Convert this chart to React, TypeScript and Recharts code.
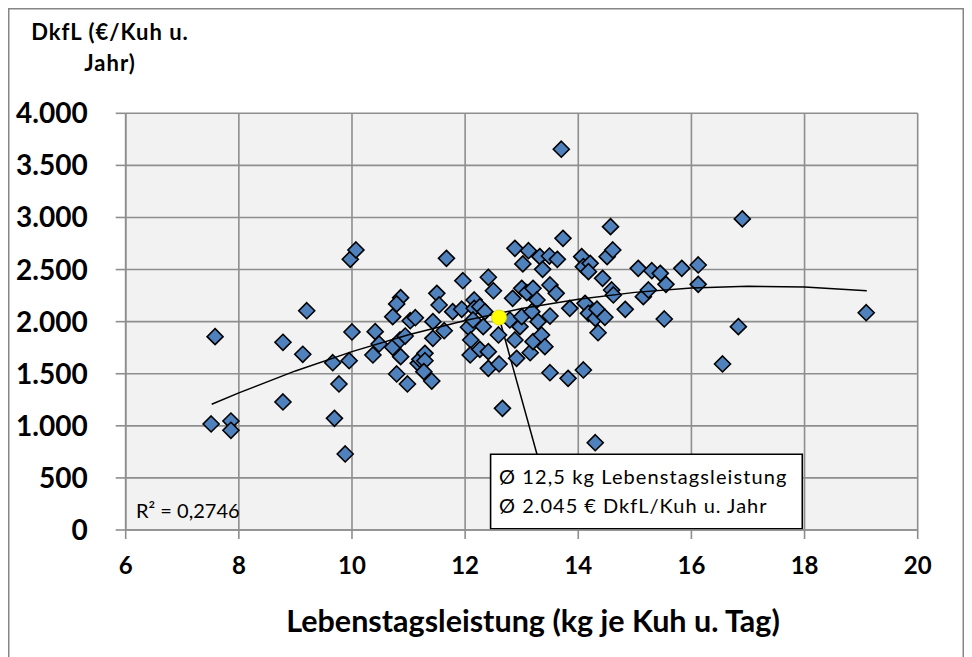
import React from "react";
import {
  ScatterChart,
  Scatter,
  XAxis,
  YAxis,
  CartesianGrid,
  ReferenceLine,
  ReferenceArea,
} from "recharts";

// Farm data: Lebenstagsleistung (kg/Kuh u. Tag) vs DkfL (€/Kuh u. Jahr)
const farmX = [
  7.51, 7.58, 7.86, 7.86, 8.78, 8.78, 9.2, 9.13, 9.66, 9.69, 9.77, 9.88, 9.95, 10.0, 9.97, 10.07,
  10.41, 10.48, 10.37, 10.72, 10.85, 10.94, 10.86, 10.79, 10.98, 10.86, 10.79, 10.72, 11.03, 11.12,
  11.17, 11.2, 11.29, 11.29, 11.27, 11.41, 11.5, 11.54, 11.43, 11.43, 11.63, 11.67, 11.78, 11.94,
  11.96, 12.06, 12.1, 12.09, 12.16, 12.16, 12.14, 12.26, 12.35, 12.41, 12.5, 12.32, 12.26, 12.41,
  12.41, 12.6, 12.59, 12.66, 12.79, 12.84, 12.88, 12.88, 12.91, 12.97, 13.0, 13.0, 13.02, 13.09,
  13.12, 13.15, 13.18, 13.2, 13.2, 13.27, 13.29, 13.32, 13.35, 13.37, 13.41, 13.49, 13.5, 13.5,
  13.5, 13.61, 13.63, 13.73, 13.7, 13.82, 13.85, 14.06, 14.09, 14.09, 14.12, 14.18, 14.21, 14.18,
  14.3, 14.33, 14.35, 14.43, 14.47, 14.51, 14.57, 14.61, 14.59, 14.62, 14.83, 14.3, 15.06, 15.15,
  15.24, 15.3, 15.45, 15.55, 15.52, 15.83, 16.12, 16.12, 16.55, 16.83, 16.9, 19.09,
];
const farmY = [
  1018, 1856, 1046, 957, 1802, 1229, 2105, 1687, 1606, 1072, 1402, 730, 1625, 1901, 2599, 2688,
  1904, 1786, 1680, 1754, 1824, 1862, 1664, 1498, 1402, 2230, 2170, 2048, 2009, 2038,
  1600, 1638, 1696, 1625, 1520, 1430, 2272, 2160, 2000, 1840, 1913, 2608, 2096, 2119,
  2393, 1946, 1824, 1680, 2208, 2128, 2016, 2144, 2096, 2426, 2297, 1952, 1734, 1712,
  1552, 1594, 1872, 1168, 2016, 2224, 1824, 2704, 1648, 1952, 2048, 2320, 2554, 2278,
  2681, 1702, 2096, 2320, 1808, 2208, 2000, 2624, 1872, 2502, 1760, 2630, 2352, 2054,
  1510, 2272, 2598, 2800, 3655, 1456, 2128, 2624, 2528, 1536, 2176, 2080, 2560, 2480,
  2032, 2120, 1894, 2416, 2042, 2624, 2912, 2688, 2304, 2256, 2118, 838, 2512, 2240,
  2304, 2489, 2464, 2358, 2026, 2512, 2544, 2358, 1594, 1952, 2986, 2086,
];

// Trend line (polynomial)
const trendX = [7.52, 8, 9, 10, 11, 12, 13, 14, 15, 16, 17, 18, 19.1];
const trendY = [1207, 1316, 1527, 1712, 1874, 2012, 2126, 2215, 2281, 2322, 2339, 2333, 2297];

// Mean point
const meanX = [12.6];
const meanY = [2040];

// Annotation box corners and connector end (data units)
const boxX = [12.45, 17.96];
const boxY = [12, 727];
const connectorEnd = [13.27, 727];

const xTicks = [6, 8, 10, 12, 14, 16, 18, 20];
const yTicks = [0, 500, 1000, 1500, 2000, 2500, 3000, 3500, 4000];

const farms = farmX.map((x, i) => ({ x, y: farmY[i] }));
const trend = trendX.map((x, i) => ({ x, y: trendY[i] }));
const mean = meanX.map((x, i) => ({ x, y: meanY[i] }));

const FONT = "Lato, 'Open Sans', sans-serif";
const GRID = "#8e8e8e";

const fmtY = (v: number) =>
  v >= 1000 ? `${Math.floor(v / 1000)}.${String(v % 1000).padStart(3, "0")}` : String(v);

const Diamond = (props: any) => {
  const { cx, cy } = props;
  if (cx == null || cy == null) return <g />;
  const r = 8;
  return (
    <polygon
      points={`${cx},${cy - r} ${cx + r},${cy} ${cx},${cy + r} ${cx - r},${cy}`}
      fill="#4f81bd"
      stroke="#000"
      strokeWidth={1.6}
    />
  );
};

const Nothing = () => <g />;

const MeanDot = (props: any) => {
  const { cx, cy } = props;
  if (cx == null || cy == null) return <g />;
  return <circle cx={cx} cy={cy} r={7.5} fill="#ffff00" stroke="#d8d800" strokeWidth={0.8} />;
};

export default function App() {
  const W = 956;
  const H = 660;
  return (
    <div style={{ position: "relative", width: W, height: H, background: "#fff" }}>
      <ScatterChart
        width={W}
        height={H}
        margin={{ top: 105.3, right: 46.3, left: 17.7, bottom: 88 }}
        style={{ fontFamily: FONT }}
      >
        <CartesianGrid stroke={GRID} strokeWidth={1.6} fill="#f2f2f2" fillOpacity={1} />
        <XAxis
          type="number"
          dataKey="x"
          domain={[6, 20]}
          ticks={xTicks}
          interval={0}
          allowDataOverflow
          height={50}
          tickSize={9}
          tickMargin={18}
          tickLine={{ stroke: GRID, strokeWidth: 1.6 }}
          axisLine={{ stroke: GRID, strokeWidth: 1.6 }}
          tick={{ fill: "#000", fontSize: 24, fontWeight: 700, fontFamily: FONT }}
        />
        <YAxis
          type="number"
          dataKey="y"
          domain={[0, 4000]}
          ticks={yTicks}
          interval={0}
          allowDataOverflow
          width={100}
          tickSize={10}
          tickMargin={28}
          tickFormatter={fmtY}
          tickLine={{ stroke: GRID, strokeWidth: 1.6 }}
          axisLine={{ stroke: GRID, strokeWidth: 1.6 }}
          tick={{ fill: "#000", fontSize: 28, fontWeight: 700, fontFamily: FONT }}
        />
        <Scatter data={farms} shape={<Diamond />} isAnimationActive={false} />
        <Scatter
          data={trend}
          shape={<Nothing />}
          line={{ stroke: "#000", strokeWidth: 1.5 }}
          lineType="joint"
          isAnimationActive={false}
        />
        <Scatter data={mean} shape={<MeanDot />} isAnimationActive={false} />
        <ReferenceLine
          segment={[
            { x: meanX[0], y: meanY[0] },
            { x: connectorEnd[0], y: connectorEnd[1] },
          ]}
          stroke="#000"
          strokeWidth={1.5}
          ifOverflow="visible"
        />
        <ReferenceArea
          x1={boxX[0]}
          x2={boxX[1]}
          y1={boxY[0]}
          y2={boxY[1]}
          fill="#fff"
          fillOpacity={1}
          stroke="#000"
          strokeWidth={1.6}
          ifOverflow="visible"
        />
      </ScatterChart>
      <svg
        width={W}
        height={H}
        style={{ position: "absolute", left: 0, top: 0, pointerEvents: "none" }}
      >
        <text x={102} y={32} textAnchor="middle" fontFamily={FONT} fontWeight={700} fontSize={22} letterSpacing={1} fill="#000">
          DkfL (€/Kuh u.
        </text>
        <text x={102} y={63} textAnchor="middle" fontFamily={FONT} fontWeight={700} fontSize={22} letterSpacing={1} fill="#000">
          Jahr)
        </text>
        <text x={128} y={510} fontFamily={FONT} fontSize={20} fill="#000">
          R² = 0,2746
        </text>
        <text x={491} y={476} fontFamily={FONT} fontSize={20} letterSpacing={1.1} fill="#000">
          Ø 12,5 kg Lebenstagsleistung
        </text>
        <text x={491} y={505} fontFamily={FONT} fontSize={20} letterSpacing={1.0} fill="#000">
          Ø 2.045 € DkfL/Kuh u. Jahr
        </text>
        <text x={525} y={624} textAnchor="middle" fontFamily={FONT} fontWeight={700} fontSize={30.5} fill="#000">
          Lebenstagsleistung (kg je Kuh u. Tag)
        </text>
        <rect x={0.75} y={0.75} width={W - 1.5} height={H + 10} fill="none" stroke="#868686" strokeWidth={1.5} />
      </svg>
    </div>
  );
}
